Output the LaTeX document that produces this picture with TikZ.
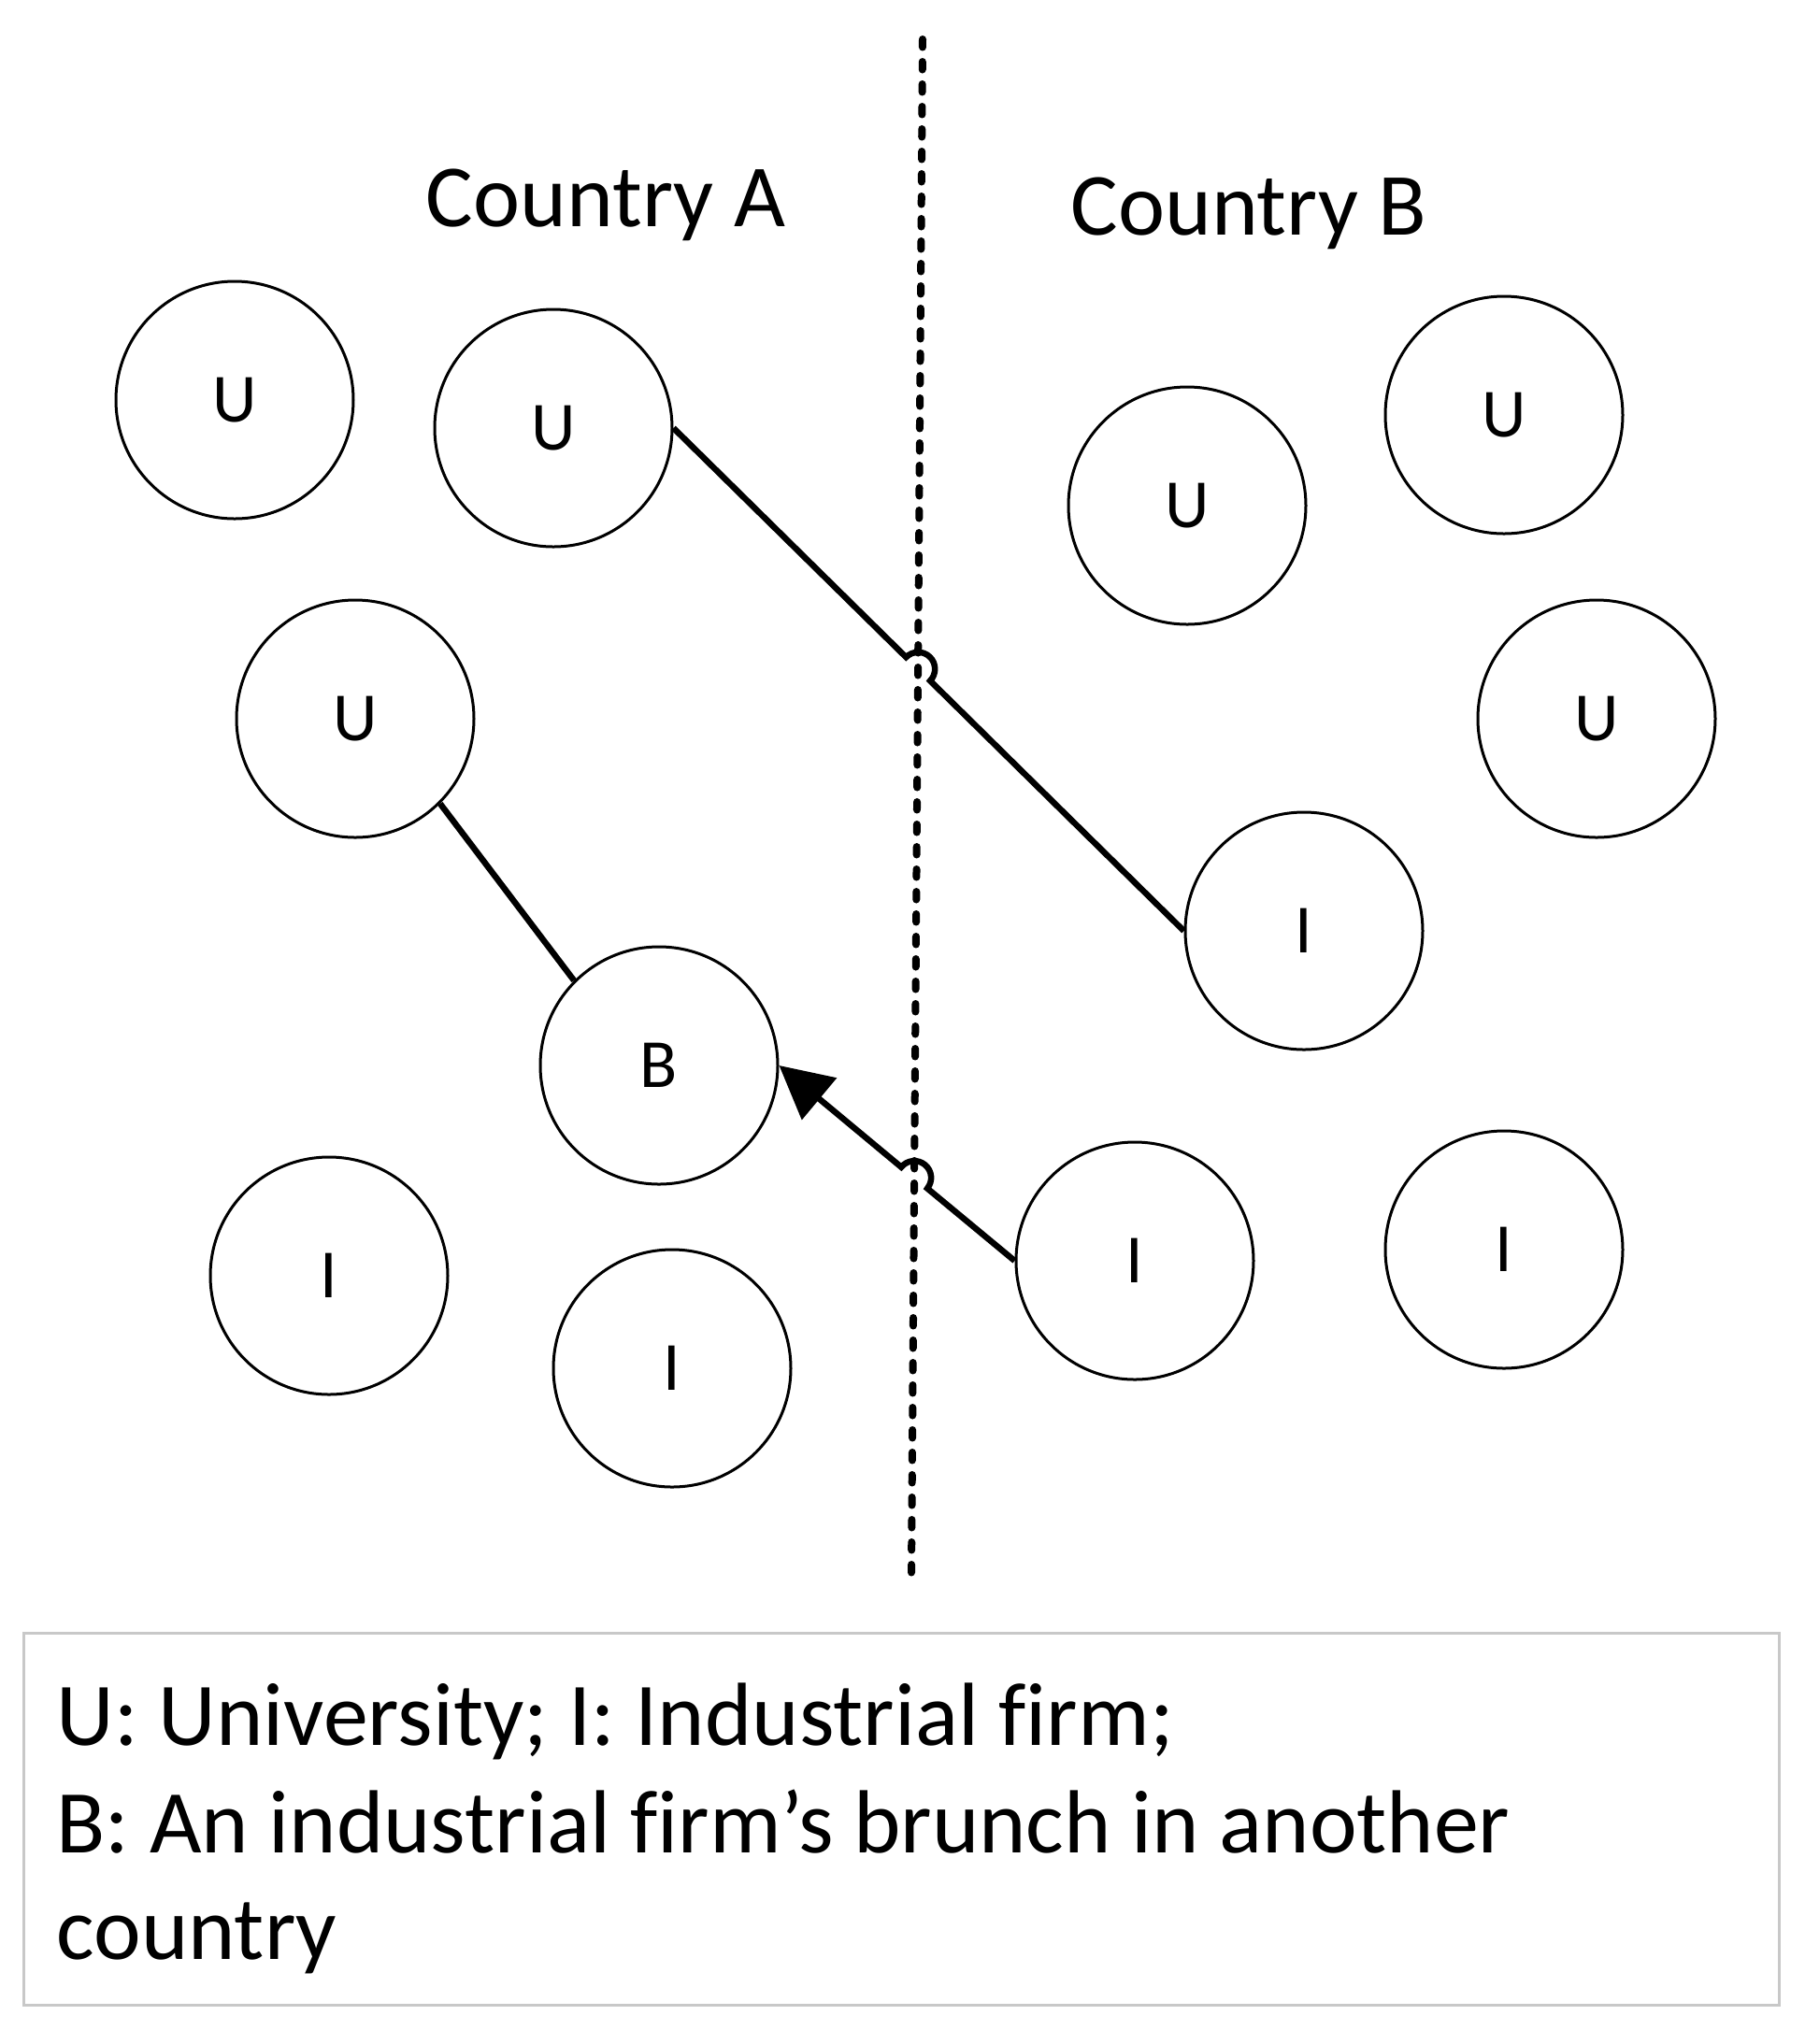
\documentclass[tikz,border=0pt]{standalone}
\usepackage{fontspec}
\setmainfont{Carlito}[Ligatures=NoCommon]
\usetikzlibrary{arrows.meta,calc}
\definecolor{boxgray}{RGB}{200,200,200}
\tikzstyle{every actor} = [circle, draw, line width=0.03cm, minimum size=2.54cm, inner sep=0pt, font=\fontsize{21}{25}\selectfont]
\tikzstyle{actor} = [every actor]
\tikzstyle{link} = [draw, line width=0.065cm]

\begin{document}
\begin{tikzpicture}
        \tikzstyle{border} = [draw, line width=0.08cm, line cap=round, dash pattern=on 0.085cm off 0.155cm]
        \tikzstyle{country} = [font=\fontsize{27}{32}\selectfont, anchor=base, inner sep=0pt]
        \tikzstyle{legend} = [font=\fontsize{27.3}{32}\selectfont, anchor=base west, inner sep=0pt]

        \useasboundingbox (0,0) rectangle (19.31,-21.87);

        \coordinate (top) at (9.87,-0.42);
        \coordinate (bot) at (9.75,-16.86);
        \draw[border] (top) -- (bot);

        \node[country] (countryA) at (6.48,-2.42) {Country A};
        \node[country] (countryB) at (13.36,-2.51) {Country B};

        % country A
        \node[actor] (u1) at (2.51,-4.28) {U};
        \node[actor] (u2) at (5.92,-4.58) {U};
        \node[actor] (u3) at (3.80,-7.69) {U};
        \node[actor] (b) at (7.05,-11.40) {B};
        \node[actor] (i1) at (3.52,-13.65) {I};
        \node[actor] (i2) at (7.19,-14.64) {I};

        % country B
        \node[actor] (u4) at (12.70,-5.41) {U};
        \node[actor] (u5) at (16.09,-4.44) {U};
        \node[actor] (u6) at (17.08,-7.69) {U};
        \node[actor] (i3) at (13.95,-9.96) {I};
        \node[actor] (i4) at (12.14,-13.49) {I};
        \node[actor] (i5) at (16.09,-13.37) {I};

        \coordinate (hop1) at (intersection of u2.east--i3.west and top--bot);
        \draw[link] (u2.east) -- ($(hop1)!0.18cm!(u2.east)$)
            arc[start angle=135.6, end angle=-44.4, radius=0.18cm] -- (i3.west);

        \draw[link] (u3.south east) -- (b.north west);

        \coordinate (hop2) at (intersection of i4.west--b.east and top--bot);
        \draw[link, -{Triangle[length=0.56cm, width=0.57cm]}] (i4.west) -- ($(hop2)!0.18cm!(i4.west)$)
            arc[start angle=-39.3, end angle=140.7, radius=0.18cm] -- (b.east);

        % legend
        \node[draw=boxgray, line width=0.03cm, minimum width=18.77cm, minimum height=3.98cm, inner sep=0pt] (legendbox) at (9.645,-19.46) {};
        \node[legend] (leg1) at (0.60,-18.67) {U: University; I: Industrial firm;};
        \node[legend] (leg2) at (0.60,-19.82) {B: An industrial firm’s brunch in another};
        \node[legend] (leg3) at (0.60,-20.96) {country};

    \end{tikzpicture}
\end{document}
